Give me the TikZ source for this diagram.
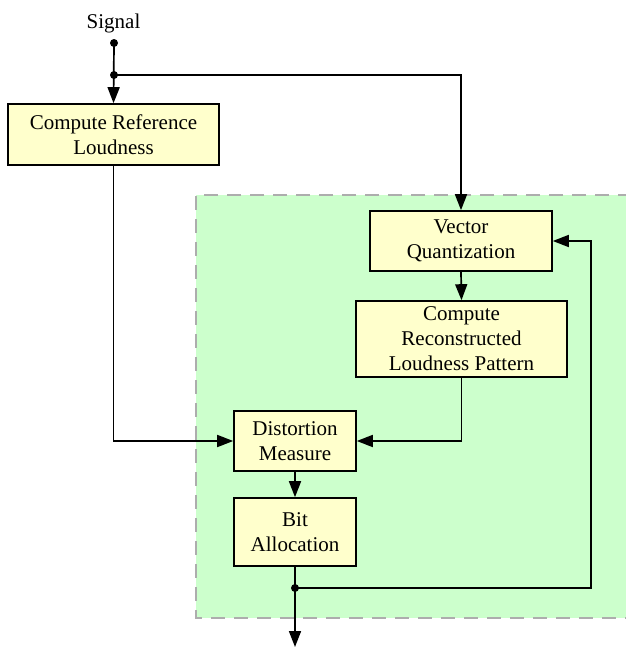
\documentclass[tikz,border=0pt]{standalone}
\usepackage{fontspec}
\setmainfont{Liberation Serif}
\usetikzlibrary{arrows.meta}
\definecolor{boxfill}{HTML}{FFFFCC}
\definecolor{regionfill}{HTML}{CCFFCC}
\definecolor{regionedge}{HTML}{ADADAD}
\tikzset{
  block/.style={draw=black, fill=boxfill, line width=1.6pt, align=center,
    inner sep=0pt, font=\fontsize{21}{25}\selectfont},
  flow/.style={line width=1.7pt, -{Triangle[length=16pt,width=12pt]}},
  wire/.style={line width=1.7pt},
  junction/.style={circle, fill=black, inner sep=0pt, minimum size=8pt},
}
\begin{document}
\begin{tikzpicture}[x=1pt, y=-1pt]
\useasboundingbox (0,0) rectangle (625,648);

% shaded region holding the iterative loop
\fill[regionfill] (196,195) rectangle (632,618);
\draw[regionedge, line width=2pt, dash pattern=on 14pt off 9pt]
  (632,195) -- (196,195) -- (196,618) -- (632,618);

% blocks
\node[block, minimum width=211pt, minimum height=61pt] (crl) at (113.5,134.5)
  {Compute Reference\\Loudness};
\node[block, minimum width=182pt, minimum height=60pt] (vq) at (461,241)
  {Vector\\Quantization};
\node[block, minimum width=211pt, minimum height=76pt] (crlp) at (461.5,339)
  {Compute\\Reconstructed\\Loudness Pattern};
\node[block, minimum width=122pt, minimum height=60pt] (dm) at (295,441)
  {Distortion\\Measure};
\node[block, minimum width=122pt, minimum height=68pt] (ba) at (295,532)
  {Bit\\Allocation};

% input and branching points
\node[font=\fontsize{21}{25}\selectfont] (sig) at (113.5,23) {Signal};
\node[junction] (s0) at (114,43) {};
\node[junction] (j1) at (114,75) {};
\node[junction] (j2) at (295,588) {};
\coordinate (loop) at (591,588);
\coordinate (out) at (295,647);

% connectors
\draw[flow] (s0.center) -- (crl.north);
\draw[flow] (j1.center) -| (vq.north);
\draw[flow] (crl.south) |- (dm.west);
\draw[flow] (vq.south) -- (crlp.north);
\draw[flow] (crlp.south) |- (dm.east);
\draw[flow] (dm.south) -- (ba.north);
\draw[wire] (ba.south) -- (j2.center);
\draw[flow] (j2.center) -- (out);
\draw[flow] (j2.center) -- (loop) |- (vq.east);
\end{tikzpicture}
\end{document}
